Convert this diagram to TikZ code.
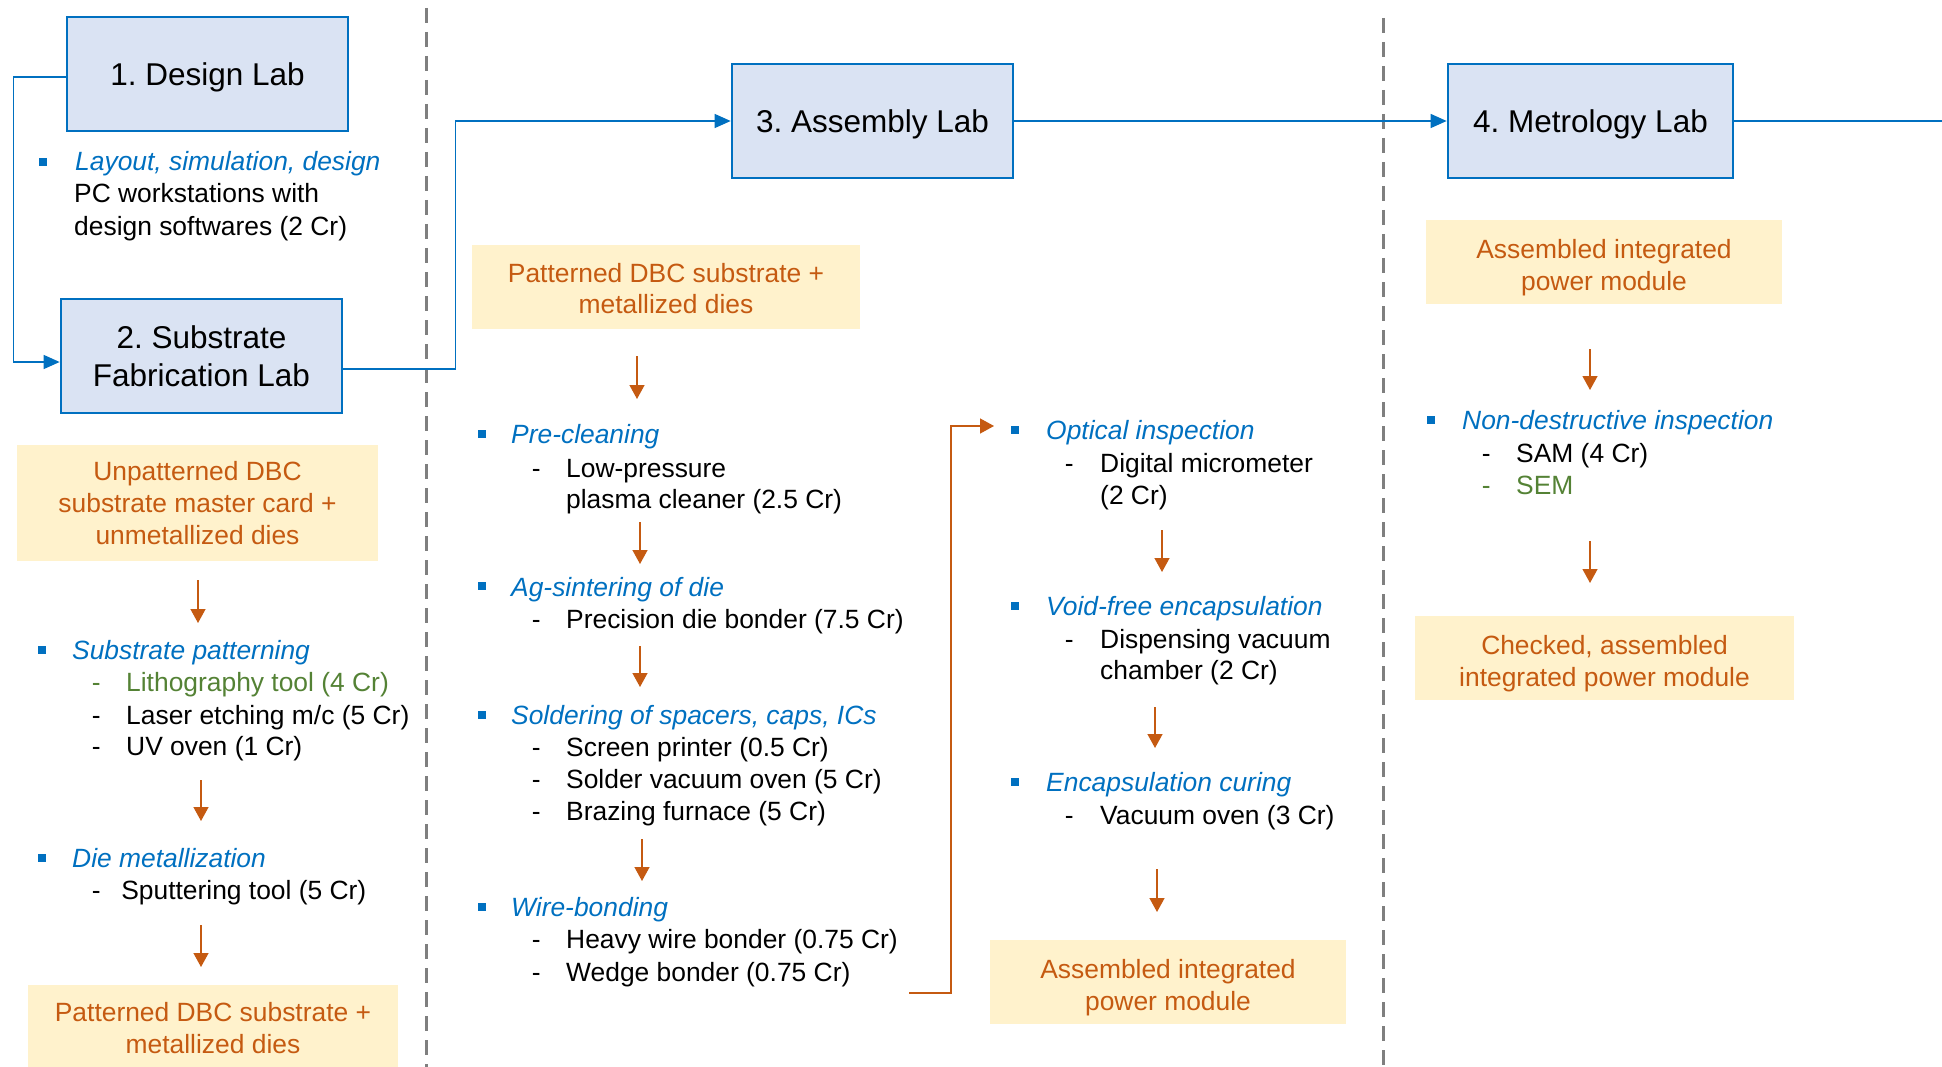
\documentclass[tikz,border=0pt]{standalone}
\usepackage{fontspec}
\setmainfont{Liberation Sans}
\frenchspacing
\usetikzlibrary{arrows.meta}

\definecolor{labblue}{HTML}{0070C0}
\definecolor{labfill}{HTML}{DAE3F3}
\definecolor{flowor}{HTML}{C55A11}
\definecolor{matfill}{HTML}{FFF2CC}
\definecolor{toolgreen}{HTML}{548235}
\definecolor{divgray}{HTML}{7F7F7F}

\begin{document}
\begin{tikzpicture}[x=1pt,y=-1pt,
    lab/.style={draw=labblue,fill=labfill,line width=2.7pt,minimum width=281pt,minimum height=114pt,
      align=center,inner sep=0pt,font=\fontsize{31.5pt}{38pt}\selectfont},
    material/.style={fill=matfill,text=flowor,align=center,inner sep=0pt,minimum height=84pt,
      font=\fontsize{26.4pt}{31.7pt}\selectfont},
    txt/.style={anchor=base west,inner sep=0pt,font=\fontsize{26.4pt}{31.7pt}\selectfont},
    task/.style={txt,text=labblue,font=\fontsize{26.4pt}{31.7pt}\selectfont\itshape},
    sq/.style={fill=labblue,minimum size=8pt,inner sep=0pt},
    link/.style={draw=labblue,line width=1.4pt,-{Triangle[length=16pt,width=14pt]}},
    flow/.style={draw=flowor,line width=1.4pt,-{Triangle[length=14pt,width=15pt]}},
    divider/.style={draw=divgray,line width=3pt,dash pattern=on 15pt off 9pt}]

  \useasboundingbox (0,0) rectangle (1942,1067);

  % Trennlinien
  \draw[divider] (426,8) -- (426,1080);
  \draw[divider] (1383,18) -- (1383,1080);

  % Labs
  \node[lab,text depth=0pt] (design) at (207.5,74) {1. Design Lab};
  \node[lab] (sub) at (201.5,356) {2. Substrate\\Fabrication Lab};
  \node[lab,text depth=0pt] (asm) at (872.5,121) {3. Assembly Lab};
  \node[lab,text depth=0pt,minimum width=285pt] (met) at (1590.5,121) {4. Metrology Lab};

  % Verbindungen der Labs
  \coordinate (exit) at (1945,121);
  \draw[link] ([yshift=-3pt]design.west) -- ++(-52,0) |- ([yshift=-6pt]sub.west);
  \draw[link] ([yshift=-13pt]sub.east) -- ++(112,0) |- (asm.west);
  \draw[link] (asm.east) -- (met.west);
  \draw[link,-] (met.east) -- (exit);

  % Design Lab
  \node[sq] (b1) at (43,162) {};
  \node[task] (lay) at (75,171) {Layout, simulation, design};
  \node[txt] (lay1) at (74,203) {PC workstations with};
  \node[txt] (lay2) at (74,236) {design softwares (2 Cr)};

  % Substrate Lab
  \node[material,minimum width=361pt,minimum height=116pt] (raw) at (197.5,503)
    {Unpatterned DBC\\substrate master card +\\unmetallized dies};
  \node[sq] (b2) at (42,650) {};
  \node[task] (pat) at (72,659) {Substrate patterning};
  \node[txt,text=toolgreen] (pat1) at (91.6,691) {\makebox[34.4pt][l]{-}Lithography tool (4 Cr)};
  \node[txt] (pat2) at (91.6,724) {\makebox[34.4pt][l]{-}Laser etching m/c (5 Cr)};
  \node[txt] (pat3) at (91.6,755) {\makebox[34.4pt][l]{-}UV oven (1 Cr)};
  \node[sq] (b3) at (42,858) {};
  \node[task] (dmet) at (72,867) {Die metallization};
  \node[txt] (dmet1) at (91.6,899) {\makebox[29.5pt][l]{-}Sputtering tool (5 Cr)};
  \node[material,minimum width=370pt,minimum height=86pt] (pdbc1) at (213,1028)
    {Patterned DBC substrate +\\metallized dies};

  % Assembly Lab
  \node[material,minimum width=388pt] (pdbc2) at (666,287)
    {\rule{0pt}{22pt}Patterned DBC substrate +\\metallized dies};
  \node[sq] (b4) at (482,434) {};
  \node[task] (pre) at (511,443) {Pre-cleaning};
  \node[txt] (pre1) at (531.6,477) {\makebox[34.4pt][l]{-}Low-pressure};
  \node[txt] (pre2) at (566,508) {plasma cleaner (2.5 Cr)};
  \node[sq] (b5) at (482,586) {};
  \node[task] (ag) at (511,596) {Ag-sintering of die};
  \node[txt] (ag1) at (531.6,628) {\makebox[34.4pt][l]{-}Precision die bonder (7.5 Cr)};
  \node[sq] (b6) at (482,715) {};
  \node[task] (sol) at (511,724) {Soldering of spacers, caps, ICs};
  \node[txt] (sol1) at (531.6,756) {\makebox[34.4pt][l]{-}Screen printer (0.5 Cr)};
  \node[txt] (sol2) at (531.6,788) {\makebox[34.4pt][l]{-}Solder vacuum oven (5 Cr)};
  \node[txt] (sol3) at (531.6,820) {\makebox[34.4pt][l]{-}Brazing furnace (5 Cr)};
  \node[sq] (b7) at (482,907) {};
  \node[task] (wire) at (511,916) {Wire-bonding};
  \node[txt] (wire1) at (531.6,948) {\makebox[34.4pt][l]{-}Heavy wire bonder (0.75 Cr)};
  \node[txt] (wire2) at (531.6,981) {\makebox[34.4pt][l]{-}Wedge bonder (0.75 Cr)};

  \node[sq] (b8) at (1015,430) {};
  \node[task] (opt) at (1046,439) {Optical inspection};
  \node[txt] (opt1) at (1064.6,472) {\makebox[35.4pt][l]{-}Digital micrometer};
  \node[txt] (opt2) at (1100,504) {(2 Cr)};
  \node[sq] (b9) at (1015,606) {};
  \node[task] (void) at (1046,615) {Void-free encapsulation};
  \node[txt] (void1) at (1064.6,648) {\makebox[35.4pt][l]{-}Dispensing vacuum};
  \node[txt] (void2) at (1100,679) {chamber (2 Cr)};
  \node[sq] (b10) at (1015,782) {};
  \node[task] (cure) at (1046,791) {Encapsulation curing};
  \node[txt] (cure1) at (1064.6,824) {\makebox[35.4pt][l]{-}Vacuum oven (3 Cr)};
  \node[material,minimum width=356pt] (apm1) at (1168,982)
    {\rule{0pt}{30pt}Assembled integrated\\power module};

  % Rueckfuehrung Wire-bonding -> Optical inspection
  \coordinate (wbout) at (909,993);
  \coordinate (optin) at (994,426);
  \draw[flow] (wbout) -- ++(42,0) |- (optin);

  % Metrology Lab
  \node[material,minimum width=356pt] (apm2) at (1604,262)
    {\rule{0pt}{30pt}Assembled integrated\\power module};
  \node[sq] (b11) at (1431,420) {};
  \node[task] (nde) at (1462,429) {Non-destructive inspection};
  \node[txt] (nde1) at (1481.6,462) {\makebox[34.4pt][l]{-}SAM (4 Cr)};
  \node[txt,text=toolgreen] (nde2) at (1481.6,494) {\makebox[34.4pt][l]{-}SEM};
  \node[material,minimum width=379pt] (chk) at (1604.5,658)
    {\rule{0pt}{30pt}Checked, assembled\\integrated power module};

  % Pfeile zwischen den Schritten
  \foreach \i/\x/\ya/\yb in {1/198/580/623, 2/201/780/821, 3/201/925/967,
      4/637/356/399, 5/640/522/564, 6/640/646/687, 7/642/839/881,
      8/1162/530/572, 9/1155/707/748, 10/1157/869/912,
      11/1590/349/390, 12/1590/541/583} {
    \coordinate (f\i a) at (\x,\ya);
    \coordinate (f\i b) at (\x,\yb);
    \draw[flow] (f\i a) -- (f\i b);
  }
\end{tikzpicture}
\end{document}
